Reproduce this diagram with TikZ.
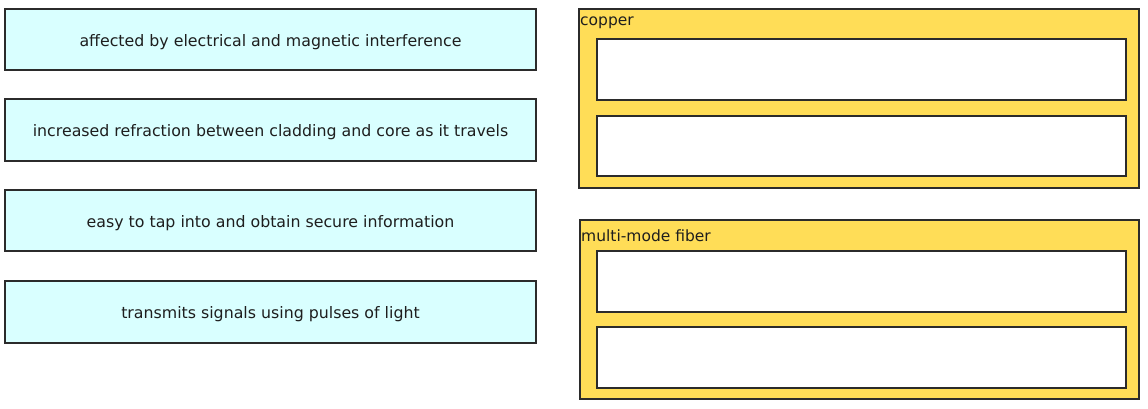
\documentclass[tikz,border=0pt]{standalone}
\usepackage{fontspec}
\setmainfont{DejaVu Sans}
\definecolor{cyanfill}{HTML}{D9FFFF}
\definecolor{panelfill}{HTML}{FFDD57}
\definecolor{edge}{HTML}{2B2B2B}
\definecolor{ink}{HTML}{1E1E1E}
\tikzset{
  x=1pt, y=-1pt,
  itembox/.style={draw=edge, line width=1.3pt, fill=cyanfill},
  itemtext/.style={inner sep=0pt, text=ink, font=\fontsize{15.8}{18}\selectfont},
  panelbox/.style={draw=edge, line width=1.3pt, fill=panelfill},
  slotbox/.style={draw=edge, line width=1.5pt, fill=white},
  paneltitle/.style={anchor=west, inner sep=0pt, text=ink, font=\fontsize{15.5}{18}\selectfont}
}
\begin{document}
\begin{tikzpicture}
\useasboundingbox (0,0) rectangle (1148,409);
% left items
\draw[itembox] (5,9) rectangle (536,70);
\node[itemtext] (i1) at (270.5,42) {affected by electrical and magnetic interference};
\draw[itembox] (5,99) rectangle (536,161);
\node[itemtext] (i2) at (270.5,132) {increased refraction between cladding and core as it travels};
\draw[itembox] (5,190) rectangle (536,251);
\node[itemtext] (i3) at (270.5,223) {easy to tap into and obtain secure information};
\draw[itembox] (5,281) rectangle (536,343);
\node[itemtext] (i4) at (270.5,314) {transmits signals using pulses of light};
% copper panel
\draw[panelbox] (579,9) rectangle (1139,188);
\node[paneltitle] (t1) at (580,23) {copper};
\draw[slotbox] (597,39) rectangle (1126,100);
\draw[slotbox] (597,116) rectangle (1126,176);
% multi-mode panel
\draw[panelbox] (580,220) rectangle (1139,399);
\node[paneltitle] (t2) at (581,236) {multi-mode fiber};
\draw[slotbox] (597,251) rectangle (1126,312);
\draw[slotbox] (597,327) rectangle (1126,388);
\end{tikzpicture}
\end{document}
